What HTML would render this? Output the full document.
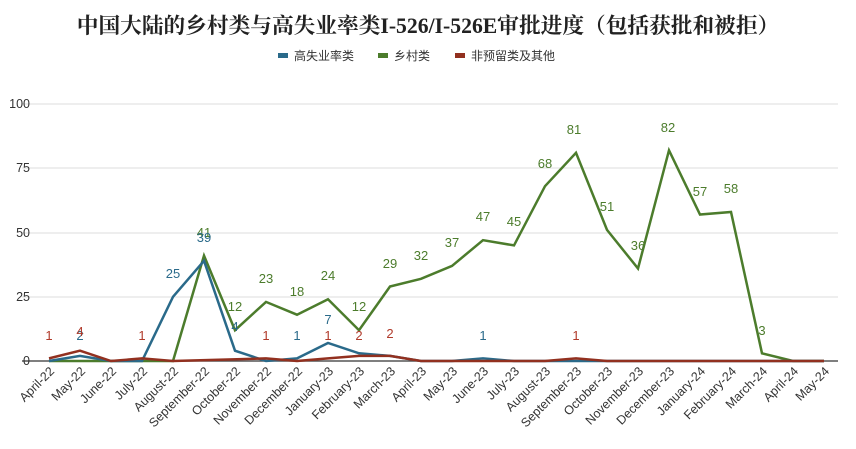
<!DOCTYPE html>
<html><head><meta charset="utf-8"><style>
body{margin:0;background:#fff}
svg{display:block;font-family:"Liberation Sans","Noto Sans CJK SC",sans-serif}
</style></head><body>
<svg width="856" height="449" viewBox="0 0 856 449" xmlns="http://www.w3.org/2000/svg">
<text x="428" y="33" text-anchor="middle" font-size="21.7" font-weight="bold" fill="#222" font-family="Liberation Serif,Noto Serif CJK SC,serif">中国大陆的乡村类与高失业率类I-526/I-526E审批进度（包括获批和被拒）</text>
<g font-size="12" fill="#333">
<rect x="278" y="53" width="10" height="5" fill="#2a6a8a"/><text x="294" y="60">高失业率类</text>
<rect x="378" y="53" width="10" height="5" fill="#4c7c2c"/><text x="394" y="60">乡村类</text>
<rect x="455" y="53" width="10" height="5" fill="#92301f"/><text x="471" y="60">非预留类及其他</text>
</g>
<g stroke="#ddd" stroke-width="1">
<line x1="22" y1="104" x2="838" y2="104"/><line x1="22" y1="168" x2="838" y2="168"/><line x1="22" y1="233" x2="838" y2="233"/><line x1="22" y1="297" x2="838" y2="297"/>
</g>
<line x1="22" y1="361" x2="838" y2="361" stroke="#555" stroke-width="1.5"/>
<g font-size="12.5" fill="#333" text-anchor="end">
<text x="30" y="108">100</text><text x="30" y="172">75</text><text x="30" y="237">50</text><text x="30" y="301">25</text><text x="30" y="365">0</text>
</g>
<polyline fill="none" stroke="#4c7c2c" stroke-width="2.5" points="49,361 80,361 111,361 142,361 173,361 204,255.6 235,330.2 266,301.9 297,314.7 328,299.3 359,330.2 390,286.5 421,278.8 452,265.9 483,240.2 514,245.4 545,186.2 576,152.8 607,229.9 638,268.5 669,150.3 700,214.5 731,212 762,353.3 793,361 824,361"/>
<polyline fill="none" stroke="#2a6a8a" stroke-width="2.5" points="49,361 80,355.9 111,361 142,361 173,296.8 204,260.8 235,350.7 266,361 297,358.4 328,343 359,353.3 390,355.9 421,361 452,361 483,358.4 514,361 824,361"/>
<polyline fill="none" stroke="#92301f" stroke-width="2.5" points="49,358.4 80,350.7 111,361 142,358.4 173,361 266,358.4 297,361 328,358.4 359,355.9 390,355.9 421,361 545,361 576,358.4 607,361 824,361"/>
<g font-size="13" fill="#4c7c2c" text-anchor="middle">
<text x="204" y="237">41</text><text x="235" y="311">12</text><text x="266" y="283">23</text><text x="297" y="296">18</text><text x="328" y="280">24</text><text x="359" y="311">12</text><text x="390" y="268">29</text><text x="421" y="260">32</text><text x="452" y="247">37</text><text x="483" y="221">47</text><text x="514" y="226">45</text><text x="545" y="168">68</text><text x="574" y="134">81</text><text x="607" y="211">51</text><text x="638" y="250">36</text><text x="668" y="132">82</text><text x="700" y="196">57</text><text x="731" y="193">58</text><text x="762" y="335">3</text>
</g>
<g font-size="13" fill="#2a6a8a" text-anchor="middle">
<text x="80" y="340">2</text><text x="173" y="278">25</text><text x="204" y="242">39</text><text x="235" y="331">4</text><text x="297" y="340">1</text><text x="328" y="324">7</text><text x="483" y="340">1</text>
</g>
<g font-size="13" fill="#b03a2a" text-anchor="middle">
<text x="49" y="340">1</text><text x="80" y="336">4</text><text x="142" y="340">1</text><text x="266" y="340">1</text><text x="328" y="340">1</text><text x="359" y="340">2</text><text x="390" y="338">2</text><text x="576" y="340">1</text>
</g>
<g font-size="12.5" fill="#333" text-anchor="end">
<text transform="translate(55,372) rotate(-45)">April-22</text>
<text transform="translate(86,372) rotate(-45)">May-22</text>
<text transform="translate(117,372) rotate(-45)">June-22</text>
<text transform="translate(148,372) rotate(-45)">July-22</text>
<text transform="translate(179,372) rotate(-45)">August-22</text>
<text transform="translate(210,372) rotate(-45)">September-22</text>
<text transform="translate(241,372) rotate(-45)">October-22</text>
<text transform="translate(272,372) rotate(-45)">November-22</text>
<text transform="translate(303,372) rotate(-45)">December-22</text>
<text transform="translate(334,372) rotate(-45)">January-23</text>
<text transform="translate(365,372) rotate(-45)">February-23</text>
<text transform="translate(396,372) rotate(-45)">March-23</text>
<text transform="translate(427,372) rotate(-45)">April-23</text>
<text transform="translate(458,372) rotate(-45)">May-23</text>
<text transform="translate(489,372) rotate(-45)">June-23</text>
<text transform="translate(520,372) rotate(-45)">July-23</text>
<text transform="translate(551,372) rotate(-45)">August-23</text>
<text transform="translate(582,372) rotate(-45)">September-23</text>
<text transform="translate(613,372) rotate(-45)">October-23</text>
<text transform="translate(644,372) rotate(-45)">November-23</text>
<text transform="translate(675,372) rotate(-45)">December-23</text>
<text transform="translate(706,372) rotate(-45)">January-24</text>
<text transform="translate(737,372) rotate(-45)">February-24</text>
<text transform="translate(768,372) rotate(-45)">March-24</text>
<text transform="translate(799,372) rotate(-45)">April-24</text>
<text transform="translate(830,372) rotate(-45)">May-24</text>
</g>
</svg>
</body></html>
